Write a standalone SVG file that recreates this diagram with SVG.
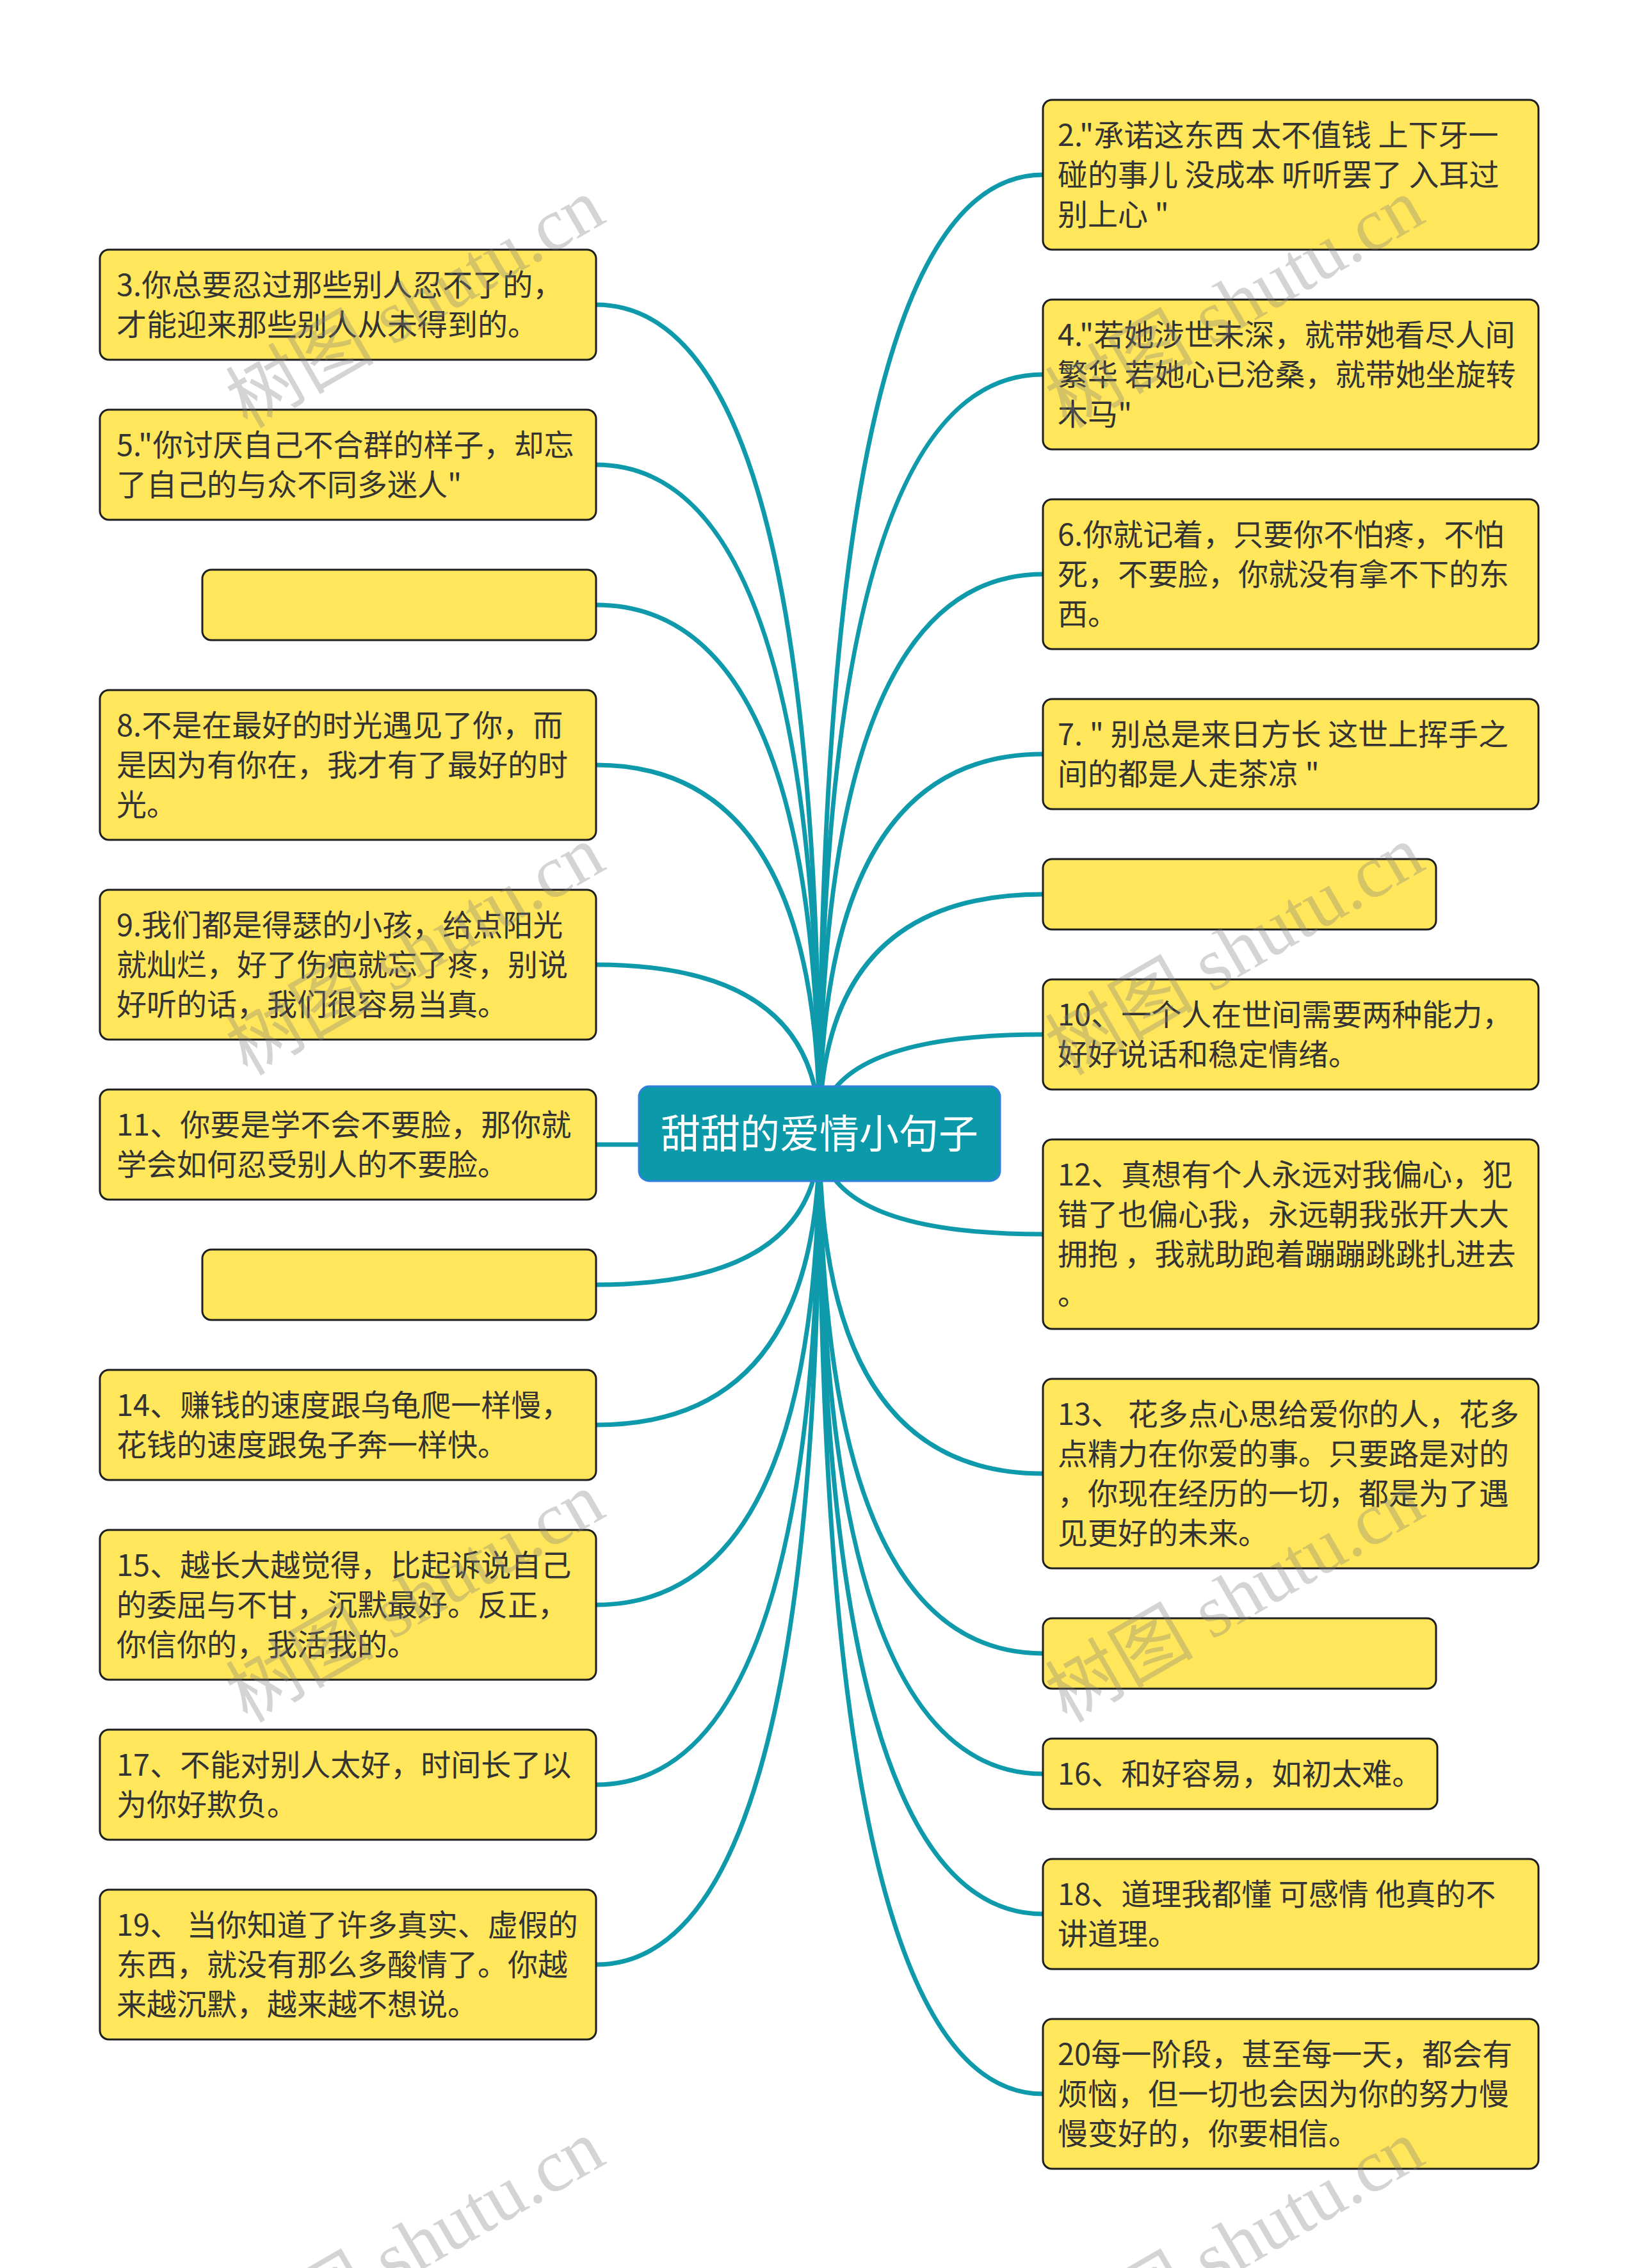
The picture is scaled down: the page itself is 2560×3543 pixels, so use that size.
<svg xmlns="http://www.w3.org/2000/svg" width="2560" height="3543" viewBox="0 0 2560 3543">
<style>
.node rect{fill:#FFE65A;stroke:#1e1e1e;stroke-width:3}
.t{font-family:"Noto Sans CJK SC","Noto Sans",sans-serif;font-size:47px;fill:#333333;white-space:pre}
.link{fill:none;stroke:#0E9AAB;stroke-width:7}
.wm{font-family:"Liberation Serif","Noto Sans CJK SC",serif;font-size:116px;fill:#808080;opacity:0.33;text-anchor:end}
</style>
<rect x="0" y="0" width="2560" height="3543" fill="#ffffff"/>
<g id="connectors">
<path class="link" d="M1280 1771 Q1280 476 931 476"/>
<path class="link" d="M1280 1771 Q1280 726 931 726"/>
<path class="link" d="M1280 1771 Q1280 945 931 945"/>
<path class="link" d="M1280 1771 Q1280 1195 931 1195"/>
<path class="link" d="M1280 1771 Q1280 1507 931 1507"/>
<path class="link" d="M1280 1771 Q1280 1788 931 1788"/>
<path class="link" d="M1280 1771 Q1280 2007 931 2007"/>
<path class="link" d="M1280 1771 Q1280 2226 931 2226"/>
<path class="link" d="M1280 1771 Q1280 2507 931 2507"/>
<path class="link" d="M1280 1771 Q1280 2788 931 2788"/>
<path class="link" d="M1280 1771 Q1280 3069 931 3069"/>
<path class="link" d="M1280 1771 Q1280 273 1629 273"/>
<path class="link" d="M1280 1771 Q1280 585 1629 585"/>
<path class="link" d="M1280 1771 Q1280 897 1629 897"/>
<path class="link" d="M1280 1771 Q1280 1178 1629 1178"/>
<path class="link" d="M1280 1771 Q1280 1397 1629 1397"/>
<path class="link" d="M1280 1771 Q1280 1616 1629 1616"/>
<path class="link" d="M1280 1771 Q1280 1928 1629 1928"/>
<path class="link" d="M1280 1771 Q1280 2302 1629 2302"/>
<path class="link" d="M1280 1771 Q1280 2583 1629 2583"/>
<path class="link" d="M1280 1771 Q1280 2771 1629 2771"/>
<path class="link" d="M1280 1771 Q1280 2990 1629 2990"/>
<path class="link" d="M1280 1771 Q1280 3271 1629 3271"/>
</g>
<g id="root">
<rect x="998" y="1697" width="564" height="148" rx="16" fill="#0C9AAB" stroke="#2F80DA" stroke-width="3"/>
<text x="1280" y="1794" text-anchor="middle" font-family="Noto Sans CJK SC, sans-serif" font-size="62" fill="#ffffff">甜甜的爱情小句子</text>
</g>
<g id="n3" class="node"><rect x="156" y="390" width="775" height="172" rx="14"/>
<text class="t"><tspan x="182" y="462">3.你总要忍过那些别人忍不了的，</tspan><tspan x="182" y="524">才能迎来那些别人从未得到的。</tspan></text></g>
<g id="n5" class="node"><rect x="156" y="640" width="775" height="172" rx="14"/>
<text class="t"><tspan x="182" y="712">5."你讨厌自己不合群的样子，却忘</tspan><tspan x="182" y="774">了自己的与众不同多迷人"</tspan></text></g>
<g id="nL-empty1" class="node"><rect x="316" y="890" width="615" height="110" rx="14"/></g>
<g id="n8" class="node"><rect x="156" y="1078" width="775" height="234" rx="14"/>
<text class="t"><tspan x="182" y="1150">8.不是在最好的时光遇见了你，而</tspan><tspan x="182" y="1212">是因为有你在，我才有了最好的时</tspan><tspan x="182" y="1274">光。</tspan></text></g>
<g id="n9" class="node"><rect x="156" y="1390" width="775" height="234" rx="14"/>
<text class="t"><tspan x="182" y="1462">9.我们都是得瑟的小孩，给点阳光</tspan><tspan x="182" y="1524">就灿烂，好了伤疤就忘了疼，别说</tspan><tspan x="182" y="1586">好听的话，我们很容易当真。</tspan></text></g>
<g id="n11" class="node"><rect x="156" y="1702" width="775" height="172" rx="14"/>
<text class="t"><tspan x="182" y="1774">11、你要是学不会不要脸，那你就</tspan><tspan x="182" y="1836">学会如何忍受别人的不要脸。</tspan></text></g>
<g id="nL-empty2" class="node"><rect x="316" y="1952" width="615" height="110" rx="14"/></g>
<g id="n14" class="node"><rect x="156" y="2140" width="775" height="172" rx="14"/>
<text class="t"><tspan x="182" y="2212">14、赚钱的速度跟乌龟爬一样慢，</tspan><tspan x="182" y="2274">花钱的速度跟兔子奔一样快。</tspan></text></g>
<g id="n15" class="node"><rect x="156" y="2390" width="775" height="234" rx="14"/>
<text class="t"><tspan x="182" y="2462">15、越长大越觉得，比起诉说自己</tspan><tspan x="182" y="2524">的委屈与不甘，沉默最好。反正，</tspan><tspan x="182" y="2586">你信你的，我活我的。</tspan></text></g>
<g id="n17" class="node"><rect x="156" y="2702" width="775" height="172" rx="14"/>
<text class="t"><tspan x="182" y="2774">17、不能对别人太好，时间长了以</tspan><tspan x="182" y="2836">为你好欺负。</tspan></text></g>
<g id="n19" class="node"><rect x="156" y="2952" width="775" height="234" rx="14"/>
<text class="t"><tspan x="182" y="3024">19、 当你知道了许多真实、虚假的</tspan><tspan x="182" y="3086">东西，就没有那么多酸情了。你越</tspan><tspan x="182" y="3148">来越沉默，越来越不想说。</tspan></text></g>
<g id="n2" class="node"><rect x="1629" y="156" width="774" height="234" rx="14"/>
<text class="t"><tspan x="1652" y="228">2."承诺这东西 太不值钱 上下牙一</tspan><tspan x="1652" y="290">碰的事儿 没成本 听听罢了 入耳过</tspan><tspan x="1652" y="352">别上心 "</tspan></text></g>
<g id="n4" class="node"><rect x="1629" y="468" width="774" height="234" rx="14"/>
<text class="t"><tspan x="1652" y="540">4."若她涉世未深，就带她看尽人间</tspan><tspan x="1652" y="602">繁华 若她心已沧桑，就带她坐旋转</tspan><tspan x="1652" y="664">木马"</tspan></text></g>
<g id="n6" class="node"><rect x="1629" y="780" width="774" height="234" rx="14"/>
<text class="t"><tspan x="1652" y="852">6.你就记着，只要你不怕疼，不怕</tspan><tspan x="1652" y="914">死，不要脸，你就没有拿不下的东</tspan><tspan x="1652" y="976">西。</tspan></text></g>
<g id="n7" class="node"><rect x="1629" y="1092" width="774" height="172" rx="14"/>
<text class="t"><tspan x="1652" y="1164">7. " 别总是来日方长 这世上挥手之</tspan><tspan x="1652" y="1226">间的都是人走茶凉 "</tspan></text></g>
<g id="nR-empty1" class="node"><rect x="1629" y="1342" width="614" height="110" rx="14"/></g>
<g id="n10" class="node"><rect x="1629" y="1530" width="774" height="172" rx="14"/>
<text class="t"><tspan x="1652" y="1602">10、一个人在世间需要两种能力，</tspan><tspan x="1652" y="1664">好好说话和稳定情绪。</tspan></text></g>
<g id="n12" class="node"><rect x="1629" y="1780" width="774" height="296" rx="14"/>
<text class="t"><tspan x="1652" y="1852">12、真想有个人永远对我偏心，犯</tspan><tspan x="1652" y="1914">错了也偏心我，永远朝我张开大大</tspan><tspan x="1652" y="1976">拥抱 ，我就助跑着蹦蹦跳跳扎进去</tspan><tspan x="1652" y="2038">。</tspan></text></g>
<g id="n13" class="node"><rect x="1629" y="2154" width="774" height="296" rx="14"/>
<text class="t"><tspan x="1652" y="2226">13、 花多点心思给爱你的人，花多</tspan><tspan x="1652" y="2288">点精力在你爱的事。只要路是对的</tspan><tspan x="1652" y="2350">，你现在经历的一切，都是为了遇</tspan><tspan x="1652" y="2412">见更好的未来。</tspan></text></g>
<g id="nR-empty2" class="node"><rect x="1629" y="2528" width="614" height="110" rx="14"/></g>
<g id="n16" class="node"><rect x="1629" y="2716" width="616" height="110" rx="14"/>
<text class="t"><tspan x="1652" y="2788">16、和好容易，如初太难。</tspan></text></g>
<g id="n18" class="node"><rect x="1629" y="2904" width="774" height="172" rx="14"/>
<text class="t"><tspan x="1652" y="2976">18、道理我都懂 可感情 他真的不</tspan><tspan x="1652" y="3038">讲道理。</tspan></text></g>
<g id="n20" class="node"><rect x="1629" y="3154" width="774" height="234" rx="14"/>
<text class="t"><tspan x="1652" y="3226">20每一阶段，甚至每一天，都会有</tspan><tspan x="1652" y="3288">烦恼，但一切也会因为你的努力慢</tspan><tspan x="1652" y="3350">慢变好的，你要相信。</tspan></text></g>
<g id="watermarks">
<text class="wm" transform="translate(950 345) rotate(-30)">树图 shutu.cn</text>
<text class="wm" transform="translate(2230 345) rotate(-30)">树图 shutu.cn</text>
<text class="wm" transform="translate(950 1356) rotate(-30)">树图 shutu.cn</text>
<text class="wm" transform="translate(2230 1356) rotate(-30)">树图 shutu.cn</text>
<text class="wm" transform="translate(950 2367) rotate(-30)">树图 shutu.cn</text>
<text class="wm" transform="translate(2230 2367) rotate(-30)">树图 shutu.cn</text>
<text class="wm" transform="translate(950 3378) rotate(-30)">树图 shutu.cn</text>
<text class="wm" transform="translate(2230 3378) rotate(-30)">树图 shutu.cn</text>
</g>
</svg>
